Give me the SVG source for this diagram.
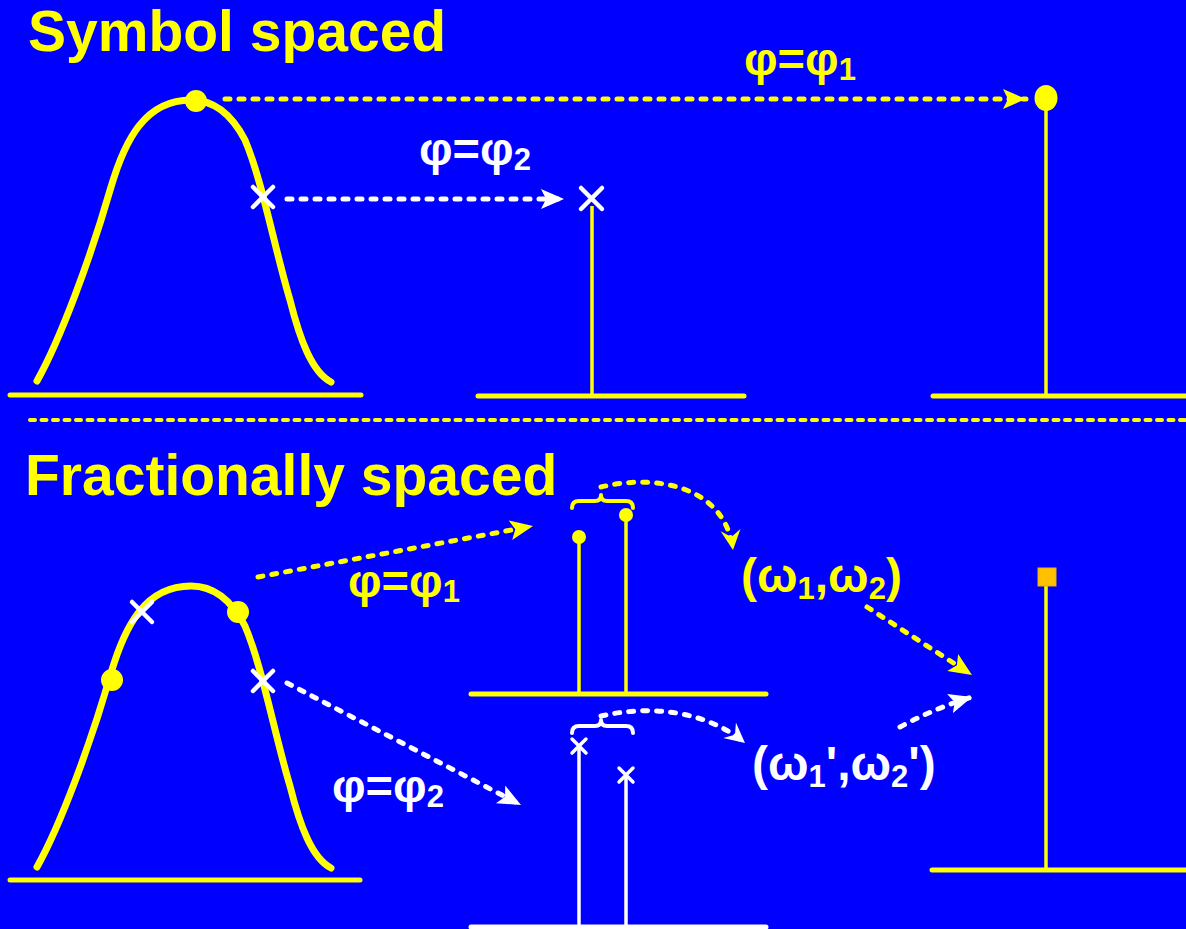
<svg xmlns="http://www.w3.org/2000/svg" width="1186" height="929" viewBox="0 0 1186 929">
<style>
.t{font-family:"Liberation Sans",Arial,sans-serif;font-weight:bold}
.y{fill:#FFFF00}
.w{fill:#FFFFFF}
.curve{fill:none;stroke:#FFFF00;stroke-width:7;stroke-linecap:round;stroke-linejoin:round}
.base{stroke:#FFFF00;stroke-width:5;stroke-linecap:round}
.baseW{stroke:#FFFFFF;stroke-width:5;stroke-linecap:round}
.stem{stroke:#FFFF00;stroke-width:3.5}
.stemW{stroke:#FFFFFF;stroke-width:3.5}
.xw{stroke:#FFFFFF;stroke-width:4.5;stroke-linecap:round}
.xs{stroke:#FFFFFF;stroke-width:3.5;stroke-linecap:round}
.dashY{fill:none;stroke:#FFFF00;stroke-width:5;stroke-linecap:round;stroke-dasharray:5 9}
.dashW{fill:none;stroke:#FFFFFF;stroke-width:5;stroke-linecap:round;stroke-dasharray:5 9}
.brY{fill:none;stroke:#FFFF00;stroke-width:4;stroke-linecap:round;stroke-linejoin:round}
.brW{fill:none;stroke:#FFFFFF;stroke-width:4;stroke-linecap:round;stroke-linejoin:round}
</style>
<defs>
<path id="bell" d="M37,381 C60,340 90,260 111,187 C125,140 145,100 191,100 C215,100 232,115 245,140 C262,180 275,250 290,300 C300,340 312,372 331,382"/>
<marker id="ahY" markerUnits="userSpaceOnUse" markerWidth="24" markerHeight="22" refX="23" refY="10" orient="auto"><path d="M0,0 L23,10 L0,20 L5,10 z" fill="#FFFF00"/></marker>
<marker id="ahW" markerUnits="userSpaceOnUse" markerWidth="24" markerHeight="22" refX="23" refY="10" orient="auto"><path d="M0,0 L23,10 L0,20 L5,10 z" fill="#FFFFFF"/></marker>
<marker id="stY" markerUnits="userSpaceOnUse" markerWidth="22" markerHeight="22" refX="20" refY="10" orient="auto"><path d="M0,0 L20,10 L0,20 L7,10 z" fill="#FFFF00"/></marker>
<marker id="stW" markerUnits="userSpaceOnUse" markerWidth="22" markerHeight="22" refX="20" refY="10" orient="auto"><path d="M0,0 L20,10 L0,20 L7,10 z" fill="#FFFFFF"/></marker>
</defs>
<rect width="1186" height="929" fill="#0000FF"/>

<g id="title-symbol"><text class="t y" x="28" y="51" font-size="57">Symbol spaced</text></g>
<g id="title-fractional"><text class="t y" x="25" y="495" font-size="57">Fractionally spaced</text></g>

<g id="separator"><line x1="30" y1="420" x2="1186" y2="420" stroke="#FFFF00" stroke-width="4" stroke-linecap="round" stroke-dasharray="5 6.5"/></g>

<g id="bell-top">
<line class="base" x1="10" y1="395" x2="361" y2="395"/>
<use href="#bell" class="curve"/>
<circle cx="196" cy="101" r="11" class="y"/>
<path class="xw" d="M253,187 L273,207 M273,187 L253,207"/>
</g>

<g id="sample-top-mid">
<line class="base" x1="478" y1="396" x2="744" y2="396"/>
<line class="stem" x1="592" y1="206" x2="592" y2="396"/>
<path class="xw" d="M581,188 L602,209 M602,188 L581,209"/>
</g>

<g id="sample-top-right">
<line class="base" x1="933" y1="396" x2="1186" y2="396"/>
<line class="stem" x1="1046" y1="100" x2="1046" y2="396"/>
<ellipse cx="1046" cy="98" rx="11.5" ry="13" class="y"/>
</g>

<g id="bell-bottom">
<line class="base" x1="10" y1="880" x2="360" y2="880"/>
<use href="#bell" class="curve" transform="translate(0,486)"/>
<circle cx="112" cy="680" r="11" class="y"/>
<circle cx="238" cy="612" r="11" class="y"/>
<path class="xw" d="M132,602 L152,622 M152,602 L132,622"/>
<path class="xw" d="M253,671 L273,691 M273,671 L253,691"/>
</g>

<g id="sample-mid-upper">
<line class="base" x1="471" y1="694" x2="766" y2="694"/>
<line class="stem" x1="579" y1="537" x2="579" y2="694"/>
<line class="stem" x1="626" y1="515" x2="626" y2="694"/>
<circle cx="579" cy="537" r="7" class="y"/>
<circle cx="626" cy="515" r="7" class="y"/>
<path class="brY" d="M572,508 Q572,501 579,501 L595,501 Q601,501 601,495 Q601,501 607,501 L626,501 Q633,501 633,508"/>
</g>

<g id="sample-mid-lower">
<line class="baseW" x1="471" y1="927" x2="766" y2="927"/>
<line class="stemW" x1="579" y1="748" x2="579" y2="929"/>
<line class="stemW" x1="626" y1="777" x2="626" y2="929"/>
<path class="xs" d="M572,739 L586,753 M586,739 L572,753"/>
<path class="xs" d="M619,768 L633,782 M633,768 L619,782"/>
<path class="brW" d="M572,733 Q572,726 579,726 L595,726 Q601,726 601,720 Q601,726 607,726 L626,726 Q633,726 633,733"/>
</g>

<g id="sample-bottom-right">
<line class="base" x1="932" y1="870" x2="1186" y2="870"/>
<line class="stem" x1="1046" y1="586" x2="1046" y2="870"/>
<rect x="1038" y="568" width="18" height="18" fill="#FFC000" stroke="#E8B000" stroke-width="1"/>
</g>

<g id="labels">
<text class="t y" x="744" y="75" font-size="47">φ=φ<tspan font-size="31" dy="5">1</tspan></text>
<text class="t w" x="419" y="165" font-size="47">φ=φ<tspan font-size="31" dy="5">2</tspan></text>
<text class="t y" x="348" y="597" font-size="47">φ=φ<tspan font-size="31" dy="5">1</tspan></text>
<text class="t w" x="332" y="802" font-size="47">φ=φ<tspan font-size="31" dy="5">2</tspan></text>
<text class="t y" x="741" y="592" font-size="48">(ω<tspan font-size="31" dy="7">1</tspan><tspan dy="-7">,ω</tspan><tspan font-size="31" dy="7">2</tspan><tspan dy="-7">)</tspan></text>
<text class="t w" x="752" y="780" font-size="48">(ω<tspan font-size="31" dy="7">1</tspan><tspan dy="-7">',ω</tspan><tspan font-size="31" dy="7">2</tspan><tspan dy="-7">')</tspan></text>
</g>

<g id="connectors">
<line class="dashY" x1="225" y1="99" x2="1026" y2="99" marker-end="url(#ahY)"/>
<line class="dashW" x1="287" y1="199" x2="564" y2="199" marker-end="url(#ahW)"/>
<line class="dashY" x1="258" y1="577" x2="533" y2="526" marker-end="url(#ahY)"/>
<line class="dashW" x1="287" y1="683" x2="521" y2="805" marker-end="url(#ahW)"/>
<path class="dashY" d="M601,487 C655,474 725,485 733,550" marker-end="url(#stY)"/>
<path class="dashW" d="M601,716 C650,705 705,710 745,743" marker-end="url(#stW)"/>
<line class="dashY" x1="867" y1="607" x2="972" y2="675" marker-end="url(#ahY)"/>
<path class="dashW" d="M900,727 Q935,708 972,697" marker-end="url(#ahW)"/>
</g>
</svg>
